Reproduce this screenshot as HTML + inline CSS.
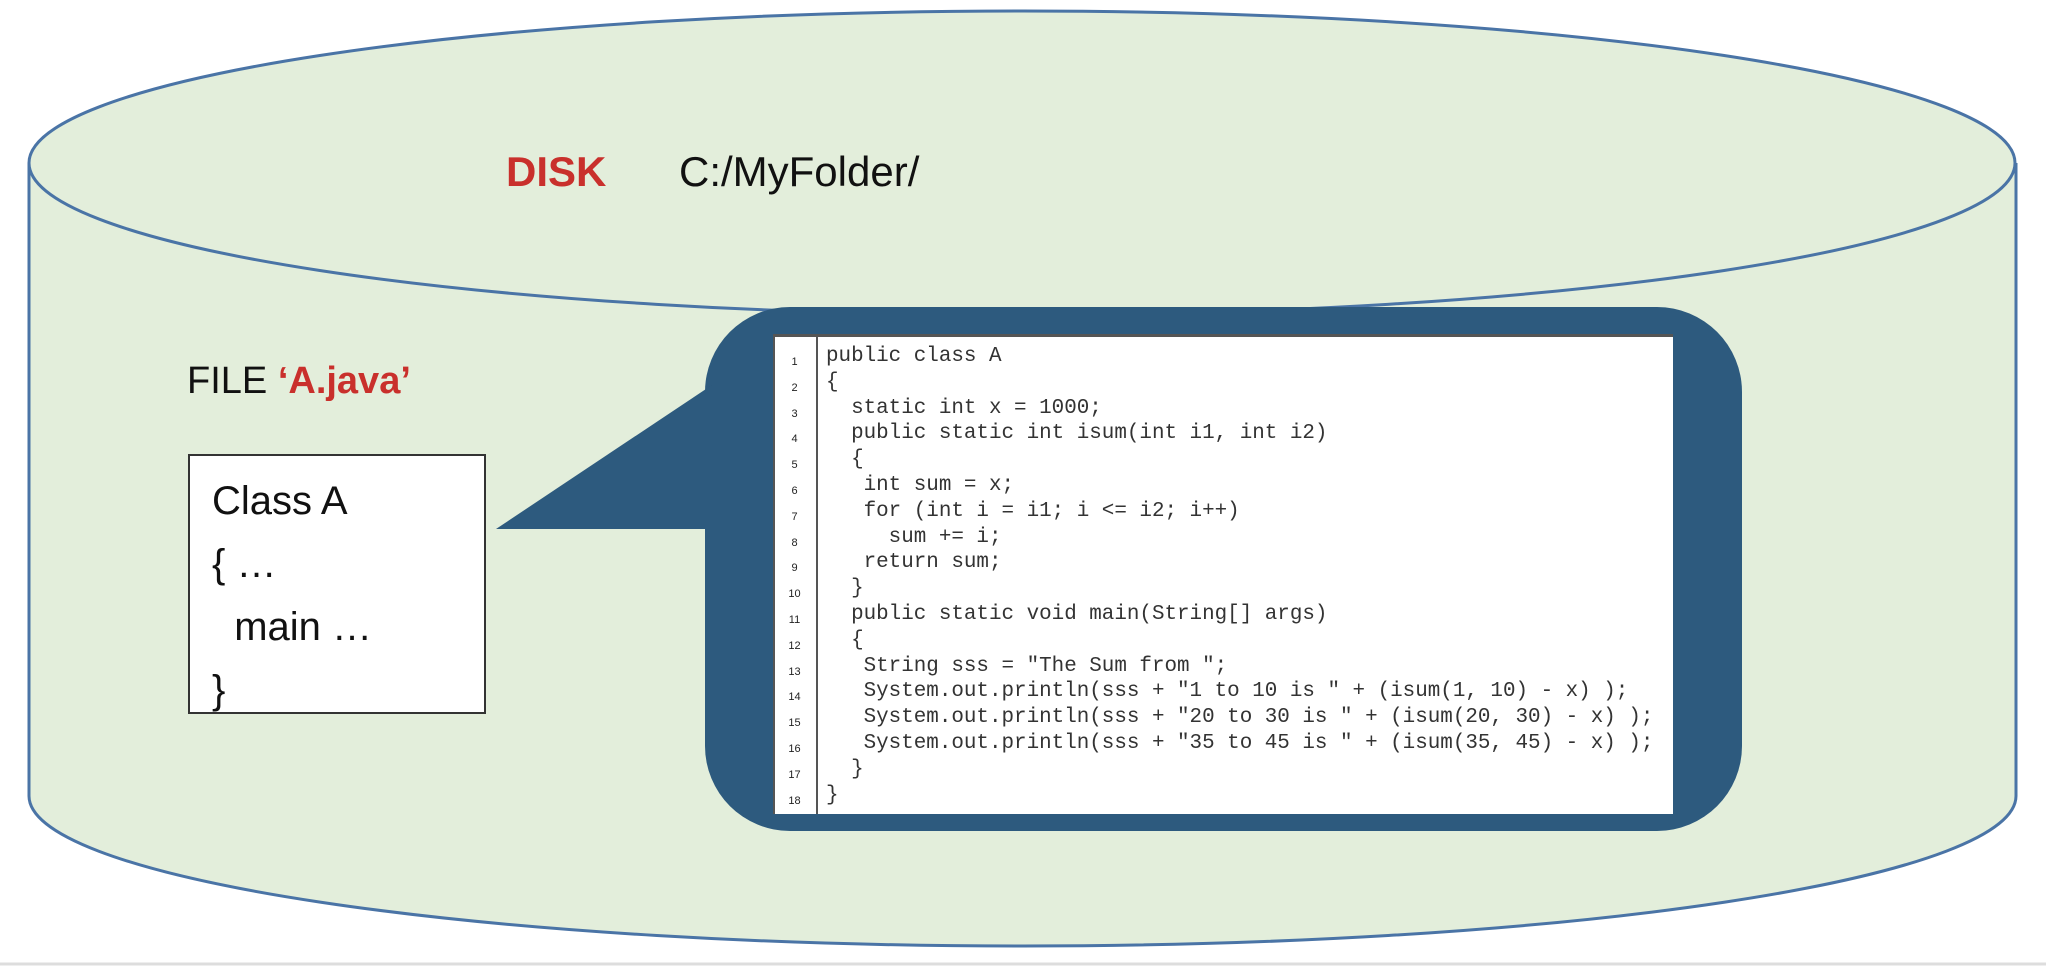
<!DOCTYPE html>
<html><head><meta charset="utf-8"><style>
html,body{margin:0;padding:0;background:#fff;}
body{width:2046px;height:966px;position:relative;overflow:hidden;font-family:"Liberation Sans",sans-serif;}
.t{position:absolute;white-space:pre;}
.code{position:absolute;left:773px;top:334px;width:900px;height:480px;background:#fff;border-top:3px solid #555;box-sizing:border-box;}
.ln{position:absolute;left:0;width:43px;font-size:11px;text-align:center;color:#222;font-family:"Liberation Sans",sans-serif;}
.cl{position:absolute;left:53px;font-family:"Liberation Mono",monospace;font-size:20.9px;color:#333;white-space:pre;}
</style></head><body>
<svg width="2046" height="966" style="position:absolute;left:0;top:0">
  <path d="M29,163 L29,796 A993,150 0 0 0 2016,796 L2016,163" fill="#e3eedb" stroke="#4a74a6" stroke-width="3"/>
  <ellipse cx="1022" cy="163" rx="993" ry="152" fill="#e3eedb" stroke="#4a74a6" stroke-width="3"/>
  <line x1="0" y1="964" x2="2046" y2="964" stroke="#ddd" stroke-width="3"/>
  <rect x="189" y="455" width="296" height="258" fill="#fff" stroke="#333" stroke-width="2"/>
  <rect x="705" y="307" width="1037" height="524" rx="85" ry="85" fill="#2d5a7e"/>
  <polygon points="496,529 712,385 712,529" fill="#2d5a7e"/>
</svg>
<div class="t" style="left:506px;top:148px;font-size:42px;color:#c9302c;font-weight:bold;">DISK</div>
<div class="t" style="left:679px;top:148px;font-size:42px;color:#111;">C:/MyFolder/</div>
<div class="t" style="left:187px;top:360px;font-size:38px;color:#111;">FILE <span style="color:#c9302c;font-weight:bold">‘A.java’</span></div>
<div class="t" style="left:212px;top:470px;font-size:40px;color:#111;line-height:63px;">Class A
{ …
  main …
}</div>
<div class="code">
<div style="position:absolute;left:43px;top:0;bottom:0;border-left:2px solid #555"></div>
<div style="position:absolute;left:0;top:0;bottom:0;border-left:2px solid #555"></div>
<div class="ln" style="top:13px;line-height:25.8px">1<br>2<br>3<br>4<br>5<br>6<br>7<br>8<br>9<br>10<br>11<br>12<br>13<br>14<br>15<br>16<br>17<br>18</div>
<div class="cl" style="top:7px;line-height:25.8px">public class A
{
  static int x = 1000;
  public static int isum(int i1, int i2)
  {
   int sum = x;
   for (int i = i1; i &lt;= i2; i++)
     sum += i;
   return sum;
  }
  public static void main(String[] args)
  {
   String sss = "The Sum from ";
   System.out.println(sss + "1 to 10 is " + (isum(1, 10) - x) );
   System.out.println(sss + "20 to 30 is " + (isum(20, 30) - x) );
   System.out.println(sss + "35 to 45 is " + (isum(35, 45) - x) );
  }
}</div>
</div>
</body></html>
